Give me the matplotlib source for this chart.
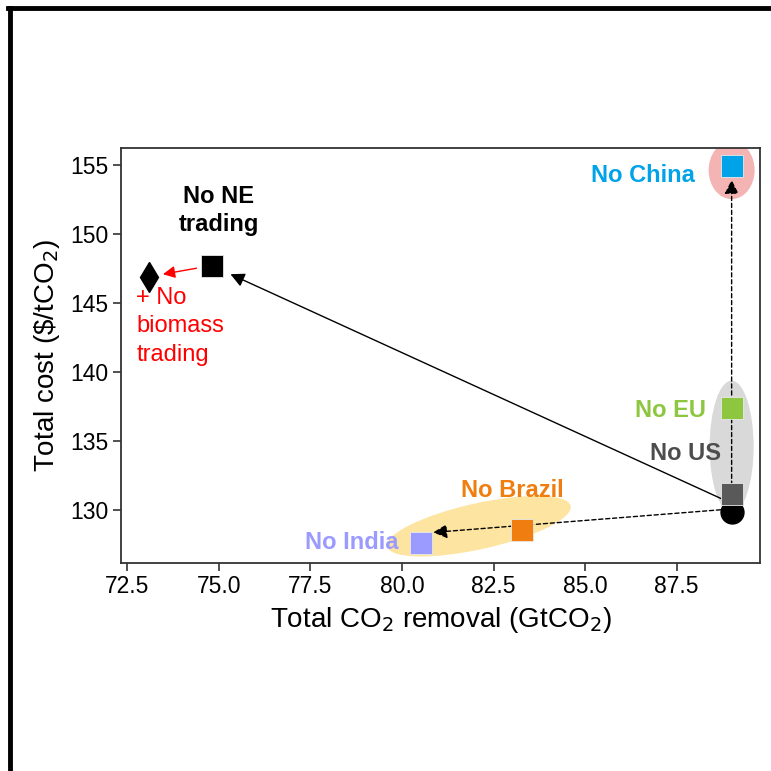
import matplotlib.pyplot as plt
from matplotlib.patches import Ellipse
from matplotlib.lines import Line2D
from matplotlib.transforms import IdentityTransform

plt.rcParams['font.family'] = ['Liberation Sans', 'DejaVu Sans']

# scenario results: total CO2 removal (GtCO2) and total cost ($/tCO2)
scenarios = ['Baseline', 'No US', 'No EU', 'No China', 'No Brazil', 'No India',
             'No NE trading', 'No biomass trading']
removal = [89.0, 89.0, 89.0, 89.0, 83.27, 80.52, 74.8, 73.1]
cost = [129.9, 131.2, 137.4, 154.9, 128.6, 127.6, 147.7, 146.9]
colors = ['#000000', '#595959', '#8dc63f', '#00a3e8', '#ef7d0f', '#9a9aff',
          '#000000', '#000000']
markers = ['o', 's', 's', 's', 's', 's', 's', 'D']

fig = plt.figure(figsize=(7.71, 7.71), dpi=100)
ax = fig.add_axes([0.157, 0.270, 0.829, 0.538])
ax.set_xlim(72.33, 89.78)
ax.set_ylim(126.2, 156.2)
ax.set_xticks([72.5, 75.0, 77.5, 80.0, 82.5, 85.0, 87.5])
ax.set_yticks([130, 135, 140, 145, 150, 155])
ax.set_xticklabels(['72.5', '75.0', '77.5', '80.0', '82.5', '85.0', '87.5'])

for s in ax.spines.values():
    s.set_color('#333333')
    s.set_linewidth(1.3)
ax.tick_params(labelsize=16.5, length=6, width=1.2, color='#333333', pad=3)

ax.set_xlabel('Total CO$_2$ removal (GtCO$_2$)', fontsize=20, labelpad=5)
ax.set_ylabel('Total cost (\\$/tCO$_2$)', fontsize=20, labelpad=6)

# highlight ellipses, sized in pixels around their groups
fig.canvas.draw()
def pix_ellipse(cx, cy, w, h, angle, color):
    px, py = ax.transData.transform((cx, cy))
    e = Ellipse((px, py), w, h, angle=angle, transform=IdentityTransform(),
                facecolor=color, edgecolor='none', zorder=1)
    ax.add_artist(e)

pix_ellipse(removal[3], 154.6, 46, 58, 0, '#f5b4b4')
pix_ellipse(removal[1], 134.6, 44, 132, 0, '#d9d9d9')
pix_ellipse(82.1, 128.85, 188, 46, 12.5, '#fde4a0')

# arrows from the baseline to each scenario
arrow_kw = dict(color='black', lw=1.0, mutation_scale=14,
                arrowstyle='-|>,head_length=0.6,head_width=0.3')
ax.annotate('', xy=(removal[6], cost[6]), xytext=(removal[0], cost[0] + 0.6),
            arrowprops=dict(shrinkA=6, shrinkB=15, **arrow_kw), zorder=2)
ax.annotate('', xy=(removal[3], cost[3]), xytext=(removal[0], cost[0]),
            arrowprops=dict(shrinkA=4, shrinkB=10, linestyle=(0, (3, 2)), **arrow_kw),
            zorder=2)
ax.annotate('', xy=(80.85, 128.4), xytext=(removal[0], cost[0] + 0.2),
            arrowprops=dict(shrinkA=8, shrinkB=0, linestyle=(0, (3, 2)), **arrow_kw),
            zorder=2)
ax.annotate('', xy=(removal[7], cost[7]), xytext=(removal[6], cost[6]),
            arrowprops=dict(color='#ff0000', lw=1.0, mutation_scale=12, shrinkA=11, shrinkB=10,
                            arrowstyle='-|>,head_length=0.6,head_width=0.3'),
            zorder=2)

# scenario markers
for x, y, c, m in zip(removal, cost, colors, markers):
    if m == 'o':
        ax.plot(x, y, marker='o', markersize=16.5, color=c, zorder=3, linestyle='none')
    elif m == 'D':
        ax.plot(x, y, marker='d', markersize=15, color=c, zorder=3, linestyle='none')
    else:
        ax.plot(x, y, marker='s', markersize=15.5, color=c, markeredgecolor='#e8e8e8',
                markeredgewidth=0.6, zorder=4, linestyle='none')

# scenario labels
lab = dict(fontsize=17, fontweight='bold')
ax.text(88.0, 154.2, 'No China', color=colors[3], ha='right', va='center', **lab)
ax.text(88.3, 137.2, 'No EU', color=colors[2], ha='right', va='center', **lab)
ax.text(88.7, 134.1, 'No US', color='#4d4d4d', ha='right', va='center', **lab)
ax.text(83.0, 131.45, 'No Brazil', color=colors[4], ha='center', va='center', **lab)
ax.text(79.9, 127.7, 'No India', color=colors[5], ha='right', va='center', **lab)
ax.text(75.0, 151.7, 'No NE\ntrading', color='black', ha='center', va='center',
        linespacing=1.25, **lab)
ax.text(72.75, 143.3, '+ No\nbiomass\ntrading', color='#ff0000', ha='left', va='center',
        fontsize=17, linespacing=1.38)

# outer frame on the left and top edges
fig.add_artist(Line2D([0.013, 0.013], [0, 0.99], transform=fig.transFigure,
                      color='black', lw=3.5))
fig.add_artist(Line2D([0.011, 1.0], [0.99, 0.99], transform=fig.transFigure,
                      color='black', lw=3.5))

fig.savefig('out.png', dpi=100)
